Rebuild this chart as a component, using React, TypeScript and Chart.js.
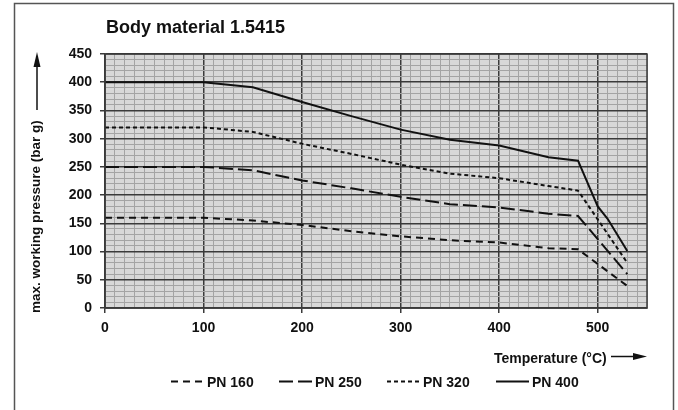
import React, { useEffect, useRef } from "react";
import { Chart, registerables } from "chart.js";

Chart.register(...registerables);

const temps160 = [0, 100, 150, 200, 250, 300, 350, 400, 450, 480, 500, 530];
const pn160 = [160, 160, 155, 147, 136, 127, 120, 116, 106, 104, 78, 39];
const temps250 = [0, 100, 150, 200, 250, 300, 350, 400, 450, 480, 500, 530];
const pn250 = [250, 250, 244, 226, 212, 197, 184, 178, 167, 163, 122, 60];
const temps320 = [0, 100, 150, 200, 250, 300, 350, 400, 450, 480, 500, 530];
const pn320 = [320, 320, 312, 291, 273, 254, 238, 230, 216, 208, 157, 80];
const temps400 = [0, 100, 150, 200, 250, 300, 350, 400, 450, 480, 500, 510, 530];
const pn400 = [400, 400, 391, 365, 340, 316, 298, 288, 267, 261, 180, 158, 101];

const seriesNames = ["PN 160", "PN 250", "PN 320", "PN 400"];
const dashes: number[][] = [[7, 5], [14, 5], [4, 3], []];
const legendX = [171, 279, 387, 496];

const titleText = "Body material 1.5415";
const yTitle = "max. working pressure (bar g)";
const xTitle = "Temperature (°C)";

const FONT = "'Liberation Sans', Arial, sans-serif";
const MAJOR = "#3a3a3a";
const MINOR = "#a4a4a4";
const BG = "#d8d8d8";
const INK = "#111111";

function pts(xs: number[], ys: number[]) {
  return xs.map((x, i) => ({ x, y: ys[i] }));
}

const decorPlugin = {
  id: "decor",
  beforeDraw(chart: any) {
    const { ctx, chartArea: a } = chart;
    ctx.save();
    ctx.fillStyle = "#ffffff";
    ctx.fillRect(0, 0, chart.width, chart.height);
    ctx.fillStyle = BG;
    ctx.fillRect(a.left, a.top, a.right - a.left, a.bottom - a.top);
    ctx.restore();
  },
  afterDraw(chart: any) {
    const { ctx, chartArea: a } = chart;
    ctx.save();
    // plot frame
    ctx.strokeStyle = MAJOR;
    ctx.lineWidth = 1.5;
    ctx.strokeRect(a.left, a.top, a.right - a.left, a.bottom - a.top);
    // outer frame
    ctx.strokeStyle = "#555555";
    ctx.lineWidth = 1.5;
    ctx.strokeRect(14.5, 3.5, 659, 440);
    // title
    ctx.fillStyle = INK;
    ctx.font = `bold 18px ${FONT}`;
    ctx.textAlign = "left";
    ctx.textBaseline = "alphabetic";
    ctx.fillText(titleText, 106, 33);
    // y title rotated
    ctx.save();
    ctx.translate(40, 313);
    ctx.rotate(-Math.PI / 2);
    ctx.font = `bold 13.5px ${FONT}`;
    ctx.fillText(yTitle, 0, 0);
    ctx.restore();
    // y arrow
    ctx.strokeStyle = INK;
    ctx.fillStyle = INK;
    ctx.lineWidth = 1.5;
    ctx.beginPath();
    ctx.moveTo(37, 110);
    ctx.lineTo(37, 62);
    ctx.stroke();
    ctx.beginPath();
    ctx.moveTo(37, 52);
    ctx.lineTo(33.5, 67);
    ctx.lineTo(40.5, 67);
    ctx.closePath();
    ctx.fill();
    // x title
    ctx.font = `bold 14px ${FONT}`;
    ctx.fillText(xTitle, 494, 363);
    ctx.beginPath();
    ctx.moveTo(611, 356.5);
    ctx.lineTo(638, 356.5);
    ctx.stroke();
    ctx.beginPath();
    ctx.moveTo(647, 356.5);
    ctx.lineTo(633, 353);
    ctx.lineTo(633, 360);
    ctx.closePath();
    ctx.fill();
    // legend
    ctx.font = `bold 14px ${FONT}`;
    seriesNames.forEach((name, i) => {
      const x0 = legendX[i];
      ctx.save();
      ctx.setLineDash(dashes[i]);
      ctx.lineWidth = 2;
      ctx.strokeStyle = INK;
      ctx.beginPath();
      ctx.moveTo(x0, 381.5);
      ctx.lineTo(x0 + 33, 381.5);
      ctx.stroke();
      ctx.restore();
      ctx.fillStyle = INK;
      ctx.fillText(name, x0 + 36, 387);
    });
    ctx.restore();
  },
};

export default function App() {
  const ref = useRef<HTMLCanvasElement | null>(null);
  useEffect(() => {
    document.body.style.margin = "0";
    const canvas = ref.current!;
    const datasets = [
      pts(temps160, pn160),
      pts(temps250, pn250),
      pts(temps320, pn320),
      pts(temps400, pn400),
    ].map((data, i) => ({
      label: seriesNames[i],
      data,
      borderColor: INK,
      borderWidth: 2,
      borderDash: dashes[i],
      pointRadius: 0,
      tension: 0,
      fill: false,
    }));
    const chart = new Chart(canvas, {
      type: "line",
      data: { datasets },
      plugins: [decorPlugin],
      options: {
        responsive: false,
        animation: false,
        devicePixelRatio: 1,
        layout: { padding: { left: 0, top: 54, right: 31, bottom: 62 } },
        plugins: { legend: { display: false }, tooltip: { enabled: false }, title: { display: false } },
        scales: {
          x: {
            type: "linear",
            min: 0,
            max: 550,
            afterFit: (s: any) => {
              s.height = 40;
            },
            ticks: {
              stepSize: 10,
              autoSkip: false,
              maxRotation: 0,
              padding: 7,
              color: INK,
              font: { family: FONT, size: 14, weight: "bold" },
              callback: (v: any) => (Number(v) % 100 === 0 ? String(v) : ""),
            },
            grid: {
              color: (c: any) => (c.tick && c.tick.value % 100 === 0 ? MAJOR : MINOR),
              lineWidth: (c: any) => (c.tick && c.tick.value % 100 === 0 ? 1.5 : 1),
              tickColor: (c: any) => (c.tick && c.tick.value % 100 === 0 ? MAJOR : "rgba(0,0,0,0)"),
              tickLength: 5,
            },
            border: { color: MAJOR, width: 1.5 },
          },
          y: {
            type: "linear",
            min: 0,
            max: 450,
            afterFit: (s: any) => {
              s.width = 105;
            },
            ticks: {
              stepSize: 10,
              autoSkip: false,
              padding: 8,
              color: INK,
              font: { family: FONT, size: 14, weight: "bold" },
              callback: (v: any) => (Number(v) % 50 === 0 ? String(v) : ""),
            },
            grid: {
              color: (c: any) => (c.tick && c.tick.value % 50 === 0 ? MAJOR : MINOR),
              lineWidth: (c: any) => (c.tick && c.tick.value % 50 === 0 ? 1.5 : 1),
              tickColor: (c: any) => (c.tick && c.tick.value % 50 === 0 ? MAJOR : "rgba(0,0,0,0)"),
              tickLength: 5,
            },
            border: { color: MAJOR, width: 1.5 },
          },
        },
      },
    } as any);
    return () => chart.destroy();
  }, []);
  return <canvas ref={ref} width={678} height={410} style={{ display: "block" }} />;
}
